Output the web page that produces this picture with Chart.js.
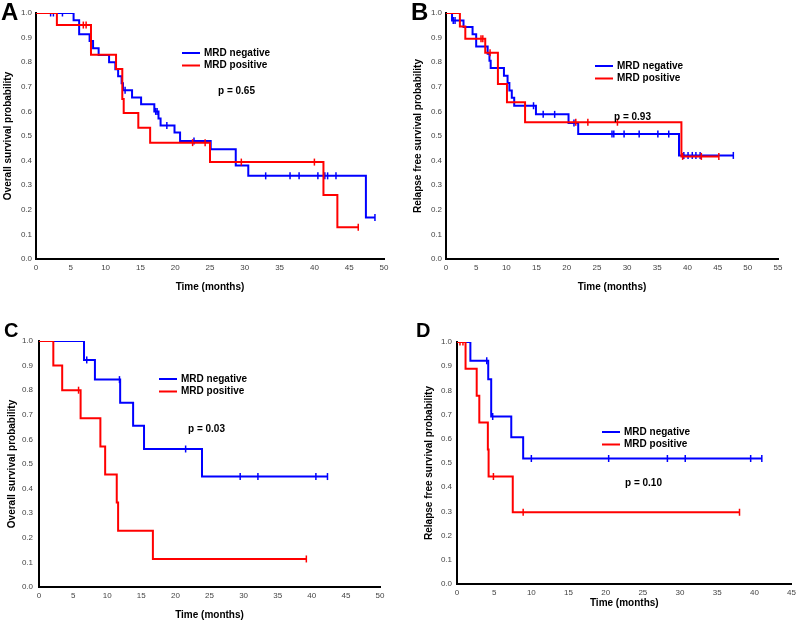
<!DOCTYPE html>
<html>
<head>
<meta charset="utf-8">
<script src="https://cdn.jsdelivr.net/npm/chart.js@4/dist/chart.umd.min.js"></script>
<style>
  html, body { margin: 0; padding: 0; background: #fff; }
  #wrap { position: relative; width: 800px; height: 621px; }
  #wrap canvas { position: absolute; left: 0; top: 0; }
</style>
</head>
<body>
<div id="wrap">
  <canvas id="pA" width="800" height="621"></canvas>
  <canvas id="pB" width="800" height="621"></canvas>
  <canvas id="pC" width="800" height="621"></canvas>
  <canvas id="pD" width="800" height="621"></canvas>
</div>
<script>
const groups = ["MRD negative", "MRD positive"];

// A: overall survival (all patients)
const aNegTime = [5.4, 6.2, 7.7, 8.2, 9.0, 10.5, 11.4, 11.8, 12.3, 12.5, 13.8, 15.1, 17.0, 17.6, 17.9, 19.9, 20.7, 25.1, 28.7, 30.5, 47.4];
const aNegSurv = [0.971, 0.914, 0.886, 0.857, 0.829, 0.800, 0.771, 0.743, 0.714, 0.686, 0.657, 0.629, 0.600, 0.571, 0.543, 0.514, 0.480, 0.446, 0.380, 0.338, 0.169];
const aNegCens = [2.1, 2.5, 3.8, 12.8, 17.2, 17.4, 18.8, 22.7, 33.0, 36.5, 37.8, 40.5, 41.5, 41.9, 43.1, 48.7];
const aPosTime = [3.0, 7.9, 11.5, 12.4, 12.6, 14.7, 16.4, 25.0, 41.3, 43.3];
const aPosSurv = [0.951, 0.830, 0.772, 0.650, 0.593, 0.534, 0.473, 0.394, 0.260, 0.129];
const aPosCens = [6.8, 7.2, 22.5, 24.3, 29.5, 40.0, 46.3];

// B: relapse free survival (all patients)
const bNegTime = [1.0, 2.9, 4.4, 5.0, 6.9, 7.2, 7.4, 9.6, 10.2, 10.5, 10.9, 11.3, 14.9, 20.3, 21.9, 38.6];
const bNegSurv = [0.970, 0.943, 0.914, 0.864, 0.834, 0.806, 0.776, 0.745, 0.715, 0.685, 0.655, 0.623, 0.588, 0.553, 0.508, 0.421];
const bNegCens = [1.2, 1.5, 14.5, 16.1, 18.0, 21.2, 27.5, 27.8, 29.5, 32.0, 35.1, 36.9, 39.4, 40.1, 40.8, 41.4, 42.1, 47.6];
const bPosTime = [2.3, 3.2, 6.5, 8.6, 10.1, 13.1, 39.0];
const bPosSurv = [0.945, 0.895, 0.838, 0.711, 0.637, 0.556, 0.417];
const bPosCens = [5.8, 6.1, 7.3, 21.5, 23.5, 28.4, 39.2, 42.3, 45.2];

// C: overall survival (subgroup)
const cNegTime = [6.6, 8.2, 11.9, 13.8, 15.4, 23.9];
const cNegSurv = [0.923, 0.843, 0.749, 0.655, 0.561, 0.449];
const cNegCens = [7.0, 11.8, 21.5, 29.5, 32.1, 40.6, 42.3];
const cPosTime = [2.1, 3.4, 6.1, 9.0, 9.7, 11.4, 11.6, 16.7];
const cPosSurv = [0.900, 0.800, 0.686, 0.571, 0.457, 0.343, 0.229, 0.114];
const cPosCens = [5.8, 39.2];

// D: relapse free survival (subgroup)
const dNegTime = [1.8, 4.2, 4.6, 7.3, 8.9];
const dNegSurv = [0.923, 0.846, 0.692, 0.606, 0.519];
const dNegCens = [4.0, 4.8, 10.0, 20.4, 28.3, 30.7, 39.5, 41.0];
const dPosTime = [1.15, 2.65, 3.0, 4.15, 4.25, 7.5];
const dPosSurv = [0.889, 0.778, 0.667, 0.556, 0.444, 0.296];
const dPosCens = [0.4, 0.8, 4.9, 8.9, 38.0];

const pValues = ["p = 0.65", "p = 0.93", "p = 0.03", "p = 0.10"];
const yTitles = ["Overall survival probability", "Relapse free survival probability",
                 "Overall survival probability", "Relapse free survival probability"];
const xTitle = "Time (months)";

const FONT = '"Liberation Sans", Arial, sans-serif';
const BLUE = "#0000ff";
const RED = "#ff0000";

// KM step: start at 1, drop at each event, run on to the last censored time
function stepPoints(times, surv, cens) {
  const pts = [{ x: 0, y: 1 }];
  times.forEach((t, i) => pts.push({ x: t, y: surv[i] }));
  const last = times[times.length - 1];
  const end = Math.max(last, ...cens);
  if (end > last) pts.push({ x: end, y: surv[surv.length - 1] });
  return pts;
}
function survAt(times, surv, t) {
  let s = 1;
  times.forEach((tt, i) => { if (tt <= t) s = surv[i]; });
  return s;
}
function censPoints(times, surv, cens) {
  return cens.map(t => ({ x: t, y: survAt(times, surv, t) }));
}

const kmNotes = {
  id: "kmNotes",
  afterDraw(chart, args, o) {
    const ctx = chart.ctx;
    ctx.save();
    ctx.fillStyle = "#000";
    ctx.textAlign = "left";
    ctx.textBaseline = "alphabetic";
    ctx.font = "bold " + o.letterSize + "px " + FONT;
    ctx.fillText(o.letter, o.letterX, o.letterY);

    ctx.font = "bold 10px " + FONT;
    ctx.textBaseline = "middle";
    const curves = chart.data.datasets.filter(d => d.showLine !== false);
    curves.sort((a, b) => groups.indexOf(a.label) - groups.indexOf(b.label));
    curves.forEach((d, i) => {
      const y = o.legendY + i * o.legendGap;
      ctx.strokeStyle = d.borderColor;
      ctx.lineWidth = 2;
      ctx.beginPath();
      ctx.moveTo(o.legendX, y);
      ctx.lineTo(o.legendX + 18, y);
      ctx.stroke();
      ctx.fillText(d.label, o.legendX + 22, y);
    });
    ctx.fillText(o.pText, o.pX, o.pY);
    ctx.restore();
  }
};

function makePanel(id, p) {
  const padLeft = p.yTitleX - 6;
  const yW = p.L - padLeft;
  const xH = p.xTitleY + 6 - p.B;
  const datasets = [
    { label: groups[1], data: stepPoints(p.posT, p.posS, p.posC), borderColor: RED, borderWidth: 2,
      stepped: "before", pointRadius: 0, fill: false, order: 1 },
    { label: groups[1] + " censored", data: censPoints(p.posT, p.posS, p.posC), showLine: false,
      pointStyle: "line", rotation: 90, pointRadius: 3.5, borderColor: RED, borderWidth: 1.5, order: 1 },
    { label: groups[0], data: stepPoints(p.negT, p.negS, p.negC), borderColor: BLUE, borderWidth: 2,
      stepped: "before", pointRadius: 0, fill: false, order: 2 },
    { label: groups[0] + " censored", data: censPoints(p.negT, p.negS, p.negC), showLine: false,
      pointStyle: "line", rotation: 90, pointRadius: 3.5, borderColor: BLUE, borderWidth: 1.5, order: 2 }
  ];
  new Chart(document.getElementById(id), {
    type: "line",
    data: { datasets },
    options: {
      responsive: false,
      animation: false,
      events: [],
      layout: { padding: { left: padLeft, top: p.T, right: 800 - p.R, bottom: 621 - p.B - xH } },
      plugins: { legend: { display: false }, tooltip: { enabled: false }, kmNotes: p.notes },
      scales: {
        x: {
          type: "linear", min: 0, max: p.xMax,
          grid: { display: false, drawTicks: false },
          border: { display: true, color: "#000", width: 2 },
          ticks: { stepSize: 5, padding: 4, color: "#444", font: { size: 8, family: FONT } },
          title: { display: true, text: xTitle, padding: 0, color: "#000",
                   font: { size: 10, weight: "bold", family: FONT } },
          afterFit: s => { s.height = xH; }
        },
        y: {
          min: 0, max: 1,
          grid: { display: false, drawTicks: false },
          border: { display: true, color: "#000", width: 2 },
          ticks: { stepSize: 0.1, padding: p.tickPad, color: "#444", font: { size: 8, family: FONT },
                   callback: v => v.toFixed(1) },
          title: { display: true, text: p.yTitle, padding: 0, color: "#000",
                   font: { size: 10, weight: "bold", family: FONT } },
          afterFit: s => { s.width = yW; }
        }
      }
    },
    plugins: [kmNotes]
  });
}

makePanel("pA", {
  L: 36, R: 384, T: 13, B: 259, yTitleX: 8, xTitleY: 287, xMax: 50, tickPad: 4, yTitle: yTitles[0],
  negT: aNegTime, negS: aNegSurv, negC: aNegCens, posT: aPosTime, posS: aPosSurv, posC: aPosCens,
  notes: { letter: "A", letterSize: 24, letterX: 1, letterY: 20,
           legendX: 182, legendY: 53, legendGap: 12.5, pText: pValues[0], pX: 218, pY: 91 }
});
makePanel("pB", {
  L: 446, R: 778, T: 13, B: 259, yTitleX: 418, xTitleY: 287, xMax: 55, tickPad: 4, yTitle: yTitles[1],
  negT: bNegTime, negS: bNegSurv, negC: bNegCens, posT: bPosTime, posS: bPosSurv, posC: bPosCens,
  notes: { letter: "B", letterSize: 24, letterX: 411, letterY: 20,
           legendX: 595, legendY: 66, legendGap: 12.5, pText: pValues[1], pX: 614, pY: 117 }
});
makePanel("pC", {
  L: 39, R: 380, T: 341, B: 587, yTitleX: 12, xTitleY: 615, xMax: 50, tickPad: 6, yTitle: yTitles[2],
  negT: cNegTime, negS: cNegSurv, negC: cNegCens, posT: cPosTime, posS: cPosSurv, posC: cPosCens,
  notes: { letter: "C", letterSize: 20, letterX: 4, letterY: 337,
           legendX: 159, legendY: 379, legendGap: 12.5, pText: pValues[2], pX: 188, pY: 429 }
});
makePanel("pD", {
  L: 457, R: 796, T: 342, B: 584, yTitleX: 429, xTitleY: 603, xMax: 45, tickPad: 5, yTitle: yTitles[3],
  negT: dNegTime, negS: dNegSurv, negC: dNegCens, posT: dPosTime, posS: dPosSurv, posC: dPosCens,
  notes: { letter: "D", letterSize: 20, letterX: 416, letterY: 337,
           legendX: 602, legendY: 432, legendGap: 12.5, pText: pValues[3], pX: 625, pY: 483 }
});
</script>
</body>
</html>
